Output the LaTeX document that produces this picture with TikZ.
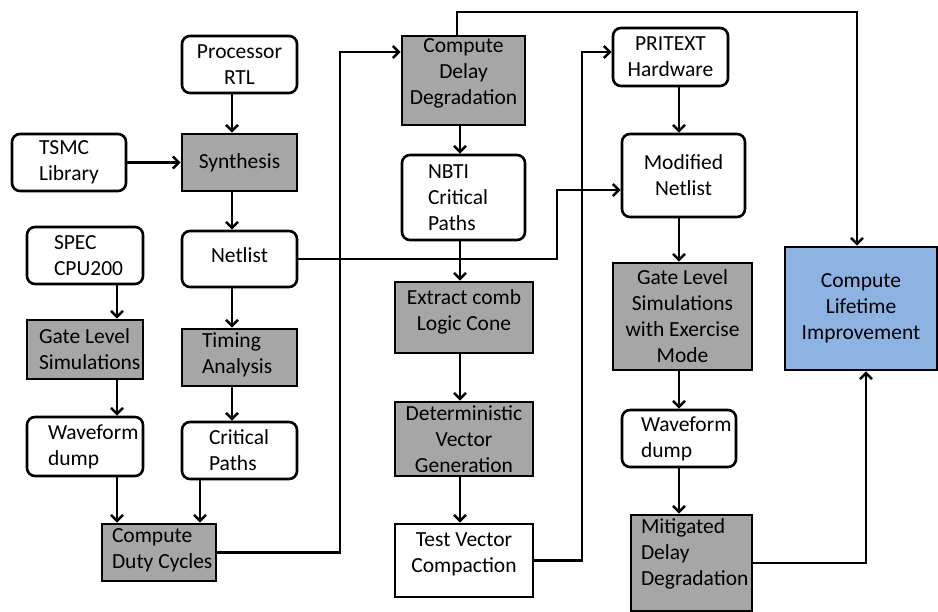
\documentclass[tikz,border=0pt]{standalone}
\usepackage{fontspec}
\setmainfont{Carlito}
\usetikzlibrary{arrows.meta,calc}
\definecolor{boxgray}{HTML}{A6A6A6}
\definecolor{boxblue}{HTML}{8DB3E2}

% one unbreakable line with the font's own word spacing
\newcommand{\keepline}[1]{\mbox{\spaceskip=0pt\xspaceskip=0pt #1}}

\tikzset{
  every node/.style={font=\fontsize{21.5}{26}\selectfont, text=black},
  base/.style={draw, line width=2.6pt, inner sep=0pt},
  plain/.style={base, rounded corners=8pt, fill=white},
  stage/.style={base, fill=boxgray},
  sq/.style={base, fill=white},
  goal/.style={base, fill=boxblue},
  sz/.style 2 args={minimum width=#1, minimum height=#2},
  flow/.style={line width=2.5pt, -{Straight Barb[length=6pt,width=12pt]}},
}

\begin{document}
\begin{tikzpicture}[x=1pt, y=-1pt]
\useasboundingbox (0,0) rectangle (938,612);

% left input column
\node[plain, sz={115pt}{57pt}, align=center] (proc) at (239.5,64.5) {Processor\\RTL};
\node[plain, sz={114pt}{57pt}, align=left, text width=60pt] (tsmc) at (69,162.5) {TSMC\\Library};
\node[stage, sz={115pt}{57pt}, align=center] (syn) at (239.5,162.5) {Synthesis};
\node[plain, sz={115pt}{56pt}, align=center, text depth=8pt] (netl) at (239.5,259) {Netlist};
\node[plain, sz={116pt}{57pt}, align=left, text width=62pt] (spec) at (85,255.5) {SPEC\\CPU200};
\node[stage, sz={116pt}{59pt}, align=left, text width=92pt] (gls1) at (85,349.5) {\keepline{Gate Level}\\Simulations};
\node[stage, sz={115pt}{57pt}, align=left, text width=75pt, text depth=35pt] (tim) at (239.5,357.5) {Timing\\Analysis};
\node[plain, sz={116pt}{59pt}, align=left, text width=74pt] (wav1) at (85,446.5) {Waveform\\dump};
\node[plain, sz={115pt}{57pt}, align=left, text width=61pt] (crit) at (239.5,450.5) {Critical\\Paths};
\node[stage, sz={114pt}{57pt}, align=left, text width=94pt, text depth=33pt] (duty) at (159,552.5) {Compute\\\keepline{Duty Cycles}};

% middle column
\node[stage, sz={123pt}{89pt}, align=center, text depth=17pt] (cdd) at (463.5,80.5) {Compute\\Delay\\Degradation};
\node[plain, sz={123pt}{85pt}, align=left, text width=71pt] (nbti) at (463.5,197.5) {NBTI\\Critical\\Paths};
\node[stage, sz={138pt}{71pt}, align=center, text depth=15pt] (ext) at (464,317.5) {Extract comb\\Logic Cone};
\node[stage, sz={138pt}{74pt}, align=center] (det) at (464,439) {Deterministic\\Vector\\Generation};
\node[sq, sz={138pt}{73pt}, align=center, text depth=15pt] (tvc) at (464,560.5) {Test Vector\\Compaction};

% right column
\node[plain, sz={115pt}{58pt}, align=center] (prit) at (670.5,57) {PRITEXT\\Hardware};
\node[plain, sz={123pt}{83pt}, align=center] (mod) at (683.5,175.5) {Modified\\Netlist};
\node[stage, sz={139pt}{107pt}, align=center] (gls2) at (682.5,316.5) {Gate Level\\Simulations\\with Exercise\\Mode};
\node[plain, sz={114pt}{57pt}, align=left, text width=76pt] (wav2) at (679,438.5) {Waveform\\dump};
\node[stage, sz={121pt}{96pt}, align=left, text width=101pt, text depth=73pt] (mit) at (691.5,563) {Mitigated\\Delay\\Degradation};
\node[goal, sz={152pt}{123pt}, align=center] (life) at (861,308.5) {Compute\\Lifetime\\Improvement};

% column lines and bend points
\coordinate (cA) at (117,0);
\coordinate (cB) at (232,0);
\coordinate (cE) at (200,0);
\coordinate (cC) at (460,0);
\coordinate (cD) at (679,0);
\coordinate (j1) at (340,52);
\coordinate (j2) at (457,12);
\coordinate (j3) at (857,12);
\coordinate (j4) at (557,190);
\coordinate (j5) at (582,52);
\coordinate (j6) at (866,0);

% left flow
\draw[flow] (proc.south -| cB) -- (syn.north -| cB);
\draw[flow] (tsmc.east) -- (syn.west);
\draw[flow] (syn.south -| cB) -- (netl.north -| cB);
\draw[flow] (netl.south -| cB) -- (tim.north -| cB);
\draw[flow] (tim.south -| cB) -- (crit.north -| cB);
\draw[flow] (spec.south -| cA) -- (gls1.north -| cA);
\draw[flow] (gls1.south -| cA) -- (wav1.north -| cA);
\draw[flow] (wav1.south -| cA) -- (duty.north -| cA);
\draw[flow] (crit.south -| cE) -- (duty.north -| cE);
\draw[flow] (duty.east) -| (j1) -- (j1 -| cdd.west);

% middle flow
\draw[flow] (cdd.north -| j2) -- (j2) -- (j3) -- (life.north -| j3);
\draw[flow] (cdd.south -| cC) -- (nbti.north -| cC);
\draw[flow] (nbti.south -| cC) -- (ext.north -| cC);
\draw[flow] (ext.south -| cC) -- (det.north -| cC);
\draw[flow] (det.south -| cC) -- (tvc.north -| cC);
\draw[flow] (netl.east) -| (j4) -- (j4 -| mod.west);
\draw[flow] (tvc.east) -| (j5) -- (j5 -| prit.west);

% right flow
\draw[flow] (prit.south -| cD) -- (mod.north -| cD);
\draw[flow] (mod.south -| cD) -- (gls2.north -| cD);
\draw[flow] (gls2.south -| cD) -- (wav2.north -| cD);
\draw[flow] (wav2.south -| cD) -- (mit.north -| cD);
\draw[flow] (mit.east) -| (life.south -| j6);
\end{tikzpicture}
\end{document}
